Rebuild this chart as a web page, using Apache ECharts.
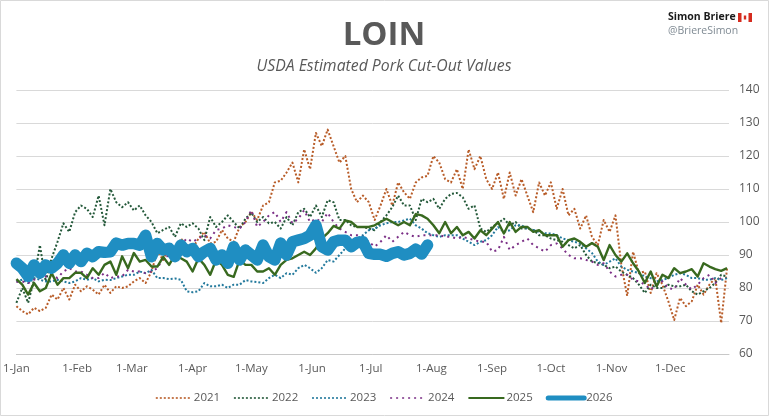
<!DOCTYPE html>
<html><head><meta charset="utf-8">
<style>html,body{margin:0;padding:0;background:#fff}#c{width:769px;height:416px}</style>
<script src="https://cdn.jsdelivr.net/npm/echarts@6/dist/echarts.min.js"></script>
</head><body><div id="c"></div>
<script>
var stepDays = 3;
var monthStarts = [0,31,59,90,120,151,181,212,243,273,304,334];
var monthLabels = ['1-Jan','1-Feb','1-Mar','1-Apr','1-May','1-Jun','1-Jul','1-Aug','1-Sep','1-Oct','1-Nov','1-Dec'];
var years = ['2021','2022','2023','2024','2025','2026'];
var v2021 = [74.5,73,72,74,73,74,78,76.5,80,76.5,
81,79,80.5,79.5,78,81,78.5,80.5,80,80.5,
82,83,81.5,85,91,88.5,93,91,95,93,
92,95,97,93.5,94,97.6,95,94,98.5,100,
103,100.6,105,106,112,112.5,115,118,112,122,
116,127,123,128,123,118,120,110,106,108,
106,100.6,105,110,105,112,109,107,112,113.5,
114,120,118,113,112,116,110,122,116,120,
113,110,115,107,115,108,113,108,103,112,
108,112,104,110,102,104,98,102,95.5,93,
100.6,97,102,87,77.6,91,84.5,85,78.5,84.5,
81,76,70.3,77,74.5,76,81,78,81,83,
69.4,86];
var v2022 = [75.5,80,75.5,82.5,93,82,89,94,99.6,97,
103,105,104,101.5,108,99,110,106,104.5,106,
103.5,105,102,100,96.6,97.6,98.5,95.5,99.6,98.5,
99.6,98,94.5,101.5,98.5,100,102,100,98,101,
102.8,100,101.5,99.6,100,98,101.5,99,103,104,
101.5,105,101.5,106.6,106,100.6,100.6,99,98.5,98.5,
98,97.5,100,102,104.5,108,105,105,100.6,107,
106,107,104,107,108.5,108.8,107.5,104,105,98,
97,98.5,99.6,101,99,100,98,98,97.6,96,
96,95,94.5,94,93,92,93,90,88,87.6,
87,86,86.5,85,84,83,81,78.5,81,80,
80,81,80.5,80.5,81,79,78,79,80,81.5,
84,83.5];
var v2023 = [82,82.5,81.5,83,82.5,82,82,82.5,82,81.5,
82,83,82.5,83,82,82.5,82.4,83,83.5,84,
84,85,84.5,85.5,83,83,82.7,82.9,82.5,79,
78.7,79,81.5,80.5,80.5,81,80,81,81,82.4,
82,81.8,81.5,83,84,83,84.5,84,86,87,
86,84.6,86,88.5,88,90,92,93,95,96,
97.5,98,99,99.6,100,100,100.5,101,99,98,
96.6,96,95.5,96,96,96,95,94,93,94,
94.5,96,98.5,97,97.5,99,99,98,97.6,97,
96.6,96.5,96,95,94.5,94,93.5,92,90.6,88,
87,88,89,86.5,85.5,85,84.5,83.5,83,82,
82.4,83,84,84.5,84,83,83,82.5,82.5,83,
82.4,83];
var v2024 = [81.8,82,81.5,82.5,83,83.5,84,83,85,86,
85,85,84,83,83,84.6,83,83.5,83.5,85.5,
85,85,84.5,85,86,89,90,91.5,93,95,
94,95,96,95,97.6,98,99,98.5,98,100,
103.6,98.5,100,102,103,100,103,99.6,101,103.6,
100,101,100,102.8,100,98,97,96,96,95.5,
94,92.5,94,96,94,95.5,97,96,95.5,96,
96,96,96,95.5,95.5,95,95.5,95,94.5,94,
94,91,91.5,95.5,91.5,93,94,95,93,92,
91,93,93.5,92,90,89,89,88.5,88,87,
87.5,85,83.5,84,84,82.5,82,81,79.6,81,
82,80,79.6,83,81,79.6,81,83,84,81.5,
83];
var v2025 = [82.7,81,78,81.5,79,80,84.5,81,83,83,
84.6,84.6,83,86,84,87,88,84,89.6,86,
90.6,88,88.5,86.5,86.5,89.4,87,90,89,88,
85,89,87,84,88.5,87,84,83.4,88.5,87,
87,85,85,86,84,87,88.5,89,90,91,
90,92,95,96.6,98.8,98,100.5,100,98.5,98.5,
98.5,99,100,101,100,99,100,99,102.4,102,
101,99,96.6,100,96.6,98.5,96,97,95,97.5,
96,98,100,96.5,100,97,98.5,98.5,97,97.5,
96,96,96,92.5,94.5,95,94,92.5,93.6,92.5,
88.5,93,90,88,90.5,87.5,85,81.5,85,80.5,
84,83,86,84.5,85,85.7,83.5,87.5,86.5,85.7,
85.2,86];
var v2026 = [87.5,86,83.5,87,84.5,87,86,87.5,90,87.5,
90,88,90.5,89.5,91,90.8,91,93.6,93,93.5,
93.5,93,96,89.5,93.5,91.5,92,89.5,93,91,
92,89.5,91,92,88.5,90,87.5,92.5,88.5,91.5,
90,88.5,93,89.5,88.5,93.6,90,94,94.5,95,
96,99,92.5,91.5,94,94.5,94.5,92.5,93.8,94,
90.5,90.2,90.2,89.6,90.5,91,90,90.5,91.8,90.3,
93];
var allValues = [v2021,v2022,v2023,v2024,v2025,v2026];
var colors = ['#B85C28','#24593A','#23799C','#7B2F86','#38691F','#1F8EC2'];
var widths = [2,2,2,2,2.4,11.5];
var dashes = [[2,2],[2,2],[2,2],[2,4],'solid','solid'];

var chart = echarts.init(document.getElementById('c'),null,{renderer:'canvas'});
var font = '"Open Sans", sans-serif';
chart.setOption({
  animation:false,
  backgroundColor:'#fff',
  textStyle:{fontFamily:font},
  title:[
    {text:'LOIN',left:379,top:14,textAlign:'center',textStyle:{fontSize:33,fontWeight:'bold',color:'#595959',fontFamily:font}},
    {text:'USDA Estimated Pork Cut-Out Values',left:379,top:53,textAlign:'center',textStyle:{fontSize:15.8,fontStyle:'italic',fontWeight:'normal',color:'#595959',fontFamily:font}}
  ],
  grid:{left:15,right:40,top:90,bottom:62,containLabel:false},
  xAxis:{type:'value',min:0,max:364,
    splitLine:{show:false},
    axisLine:{show:true,onZero:false,lineStyle:{color:'#C8C8C8',width:1}},
    axisTick:{show:false},
    axisLabel:{customValues:monthStarts,color:'#595959',fontSize:11.5,margin:9,hideOverlap:false,showMinLabel:true,showMaxLabel:true,
      formatter:function(v){var i=monthStarts.indexOf(v);return i>=0?monthLabels[i]:'';}}
  },
  yAxis:{type:'value',position:'right',min:60,max:140,interval:10,
    axisLine:{show:false},axisTick:{show:false},
    splitLine:{lineStyle:{color:'#D9D9D9',width:1}},
    axisLabel:{color:'#595959',fontSize:12,margin:10}
  },
  legend:{left:150,top:387,itemWidth:36,itemHeight:14,itemGap:13,
    itemStyle:{opacity:0},
    textStyle:{color:'#595959',fontSize:11.5,padding:[0,0,0,-3]},
    data:years.map(function(y,i){return {name:y,itemStyle:{opacity:0},lineStyle:{width:i==5?5:(i==4?2:1.6)}};})
  },
  series:years.map(function(y,i){return {
    name:y,type:'line',symbol:'none',smooth:false,z:2+i,
    lineStyle:{color:colors[i],width:widths[i],type:dashes[i],cap:i==5?'round':'butt',join:'round'},
    itemStyle:{color:colors[i]},
    data:allValues[i].map(function(v,k){return [k*stepDays,v];})
  };}),
  graphic:[
    {type:'rect',shape:{x:0.5,y:0.5,width:768,height:415},style:{fill:'none',stroke:'#D9D9D9',lineWidth:1},silent:true},
    {type:'text',left:668,top:12,style:{text:'Simon Briere',font:'bold 10.5px "Open Sans"',fill:'#1a1a1a'}},
    {type:'text',left:668,top:26,style:{text:'@BriereSimon',font:'10.5px "Open Sans"',fill:'#7f8a93'}},
    {type:'rect',shape:{x:738,y:13,width:14,height:9},style:{fill:'#fff'},silent:true},
    {type:'rect',shape:{x:738,y:13,width:3.5,height:9},style:{fill:'#D52B1E'},silent:true},
    {type:'rect',shape:{x:748.5,y:13,width:3.5,height:9},style:{fill:'#D52B1E'},silent:true},
    {type:'rect',shape:{x:743.8,y:15.5,width:2.4,height:4},style:{fill:'#D52B1E'},silent:true}
  ]
});
</script></body></html>
